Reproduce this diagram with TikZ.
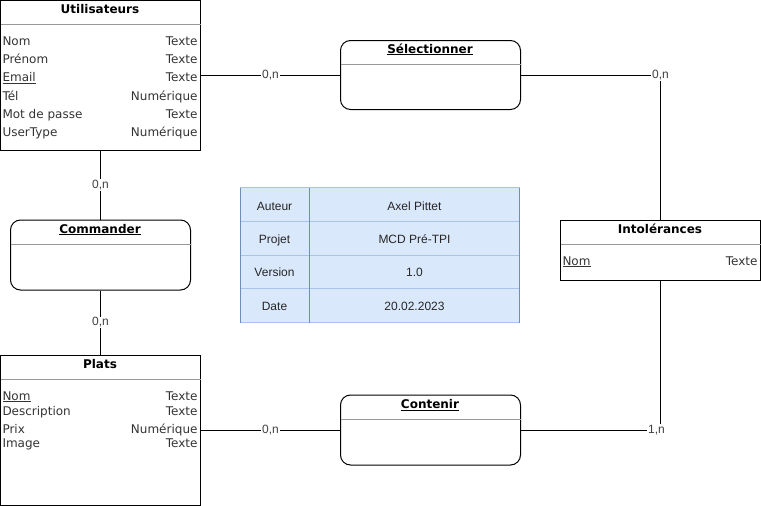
\documentclass[tikz,border=0pt]{standalone}
\usepackage{fontspec}
\setmainfont{DejaVu Sans}
\newfontfamily\arialfont{Liberation Sans}
\usetikzlibrary{calc}
\definecolor{tabfill}{HTML}{DAE8FC}
\definecolor{tabline}{HTML}{6C8EBF}
\definecolor{tabrow}{HTML}{A9C4EB}

\begin{document}
\begin{tikzpicture}[x=1pt,y=-1pt,line width=1pt,
  entite/.style={draw,rectangle,inner sep=0pt},
  assoc/.style={draw,rectangle,rounded corners=10pt,inner sep=0pt},
  titre/.style={anchor=base,inner sep=0pt,font=\fontsize{12}{14}\selectfont\bfseries},
  sep/.style={draw=black!40},
  attr/.style={inner sep=0pt,text=black!80,font=\fontsize{12}{14}\selectfont},
  card/.style={fill=white,inner sep=1pt,text=black!75,font=\arialfont\fontsize{12}{14}\selectfont},
  cell/.style={anchor=base,inner sep=0pt,text=black!85,font=\arialfont\fontsize{12}{14}\selectfont}]
\useasboundingbox (0,0) rectangle (761,506);
% Entities
\node[entite,minimum width=200pt,minimum height=150pt] (util) at (100.5,75) {};
\node[titre] (util-t) at (100,13) {Utilisateurs};
\draw[sep] (0.5,24) -- (200.5,24);
\foreach \nom/\type [count=\i] in {Nom/Texte, Prénom/Texte, {\underline{Email}}/Texte,
    Tél/Numérique, Mot de passe/Texte, UserType/Numérique}
  {
  \node[attr,anchor=base west] at (2,{45.3+(\i-1)*18.3}) {\nom};
  \node[attr,anchor=base east] at (198,{45.3+(\i-1)*18.3}) {\type};
  }
\node[entite,minimum width=200pt,minimum height=150pt] (plats) at (100.5,430) {};
\node[titre] (plats-t) at (100,368) {Plats};
\draw[sep] (0.5,379.5) -- (200.5,379.5);
\foreach \y/\nom/\type in {400/{\underline{Nom}}/Texte, 415/Description/Texte,
    433.3/Prix/Numérique, 447.7/Image/Texte}
  {
  \node[attr,anchor=base west] at (2,\y) {\nom};
  \node[attr,anchor=base east] at (198,\y) {\type};
  }
\node[entite,minimum width=200pt,minimum height=60pt] (intol) at (660.5,250) {};
\node[titre] (intol-t) at (660,233) {Intolérances};
\draw[sep] (560.5,244) -- (760.5,244);
\node[attr,anchor=base west] at (562,265) {\underline{Nom}};
\node[attr,anchor=base east] at (758,265) {Texte};
% Associations
\node[assoc,minimum width=180pt,minimum height=69pt] (selec) at (430.5,75) {};
\node[titre] (selec-t) at (430,53) {\underline{Sélectionner}};
\draw[sep] (340.5,64) -- (520.5,64);
\node[assoc,minimum width=180pt,minimum height=70pt] (comm) at (100.5,255) {};
\node[titre] (comm-t) at (100,233) {\underline{Commander}};
\draw[sep] (10.5,244) -- (190.5,244);
\node[assoc,minimum width=180pt,minimum height=70pt] (conten) at (430.5,430) {};
\node[titre] (conten-t) at (430,408.5) {\underline{Contenir}};
\draw[sep] (340.5,419.5) -- (520.5,419.5);
% Links
\draw (util.east) -- node[card] {0,n} (selec.west);
\draw (selec.east) -| node[card,pos=0.5] {0,n} (intol.north);
\draw (intol.south) |- node[card,pos=0.5,xshift=-4pt] {1,n} (conten.east);
\draw (plats.east) -- node[card] {0,n} (conten.west);
\draw (util.south) -- node[card] {0,n} (comm.north);
\draw (comm.south) -- node[card] {0,n} (plats.north);
% Table
\fill[tabfill] (240,187.5) rectangle (520,322.5);
\foreach \y in {187.5,221,255,288.5,322.5}
  \draw[tabrow] (240,\y) -- (520,\y);
\foreach \x in {240.5,309.5,519.5}
  \draw[tabline] (\x,187.5) -- (\x,322.5);
\foreach \cle/\val [count=\i] in {Auteur/Axel Pittet, Projet/MCD Pré-TPI,
    Version/1.0, Date/20.02.2023}
  {
  \node[cell] at (274.5,{210+(\i-1)*33.4}) {\cle};
  \node[cell] at (414.5,{210+(\i-1)*33.4}) {\val};
  }
\end{tikzpicture}
\end{document}
